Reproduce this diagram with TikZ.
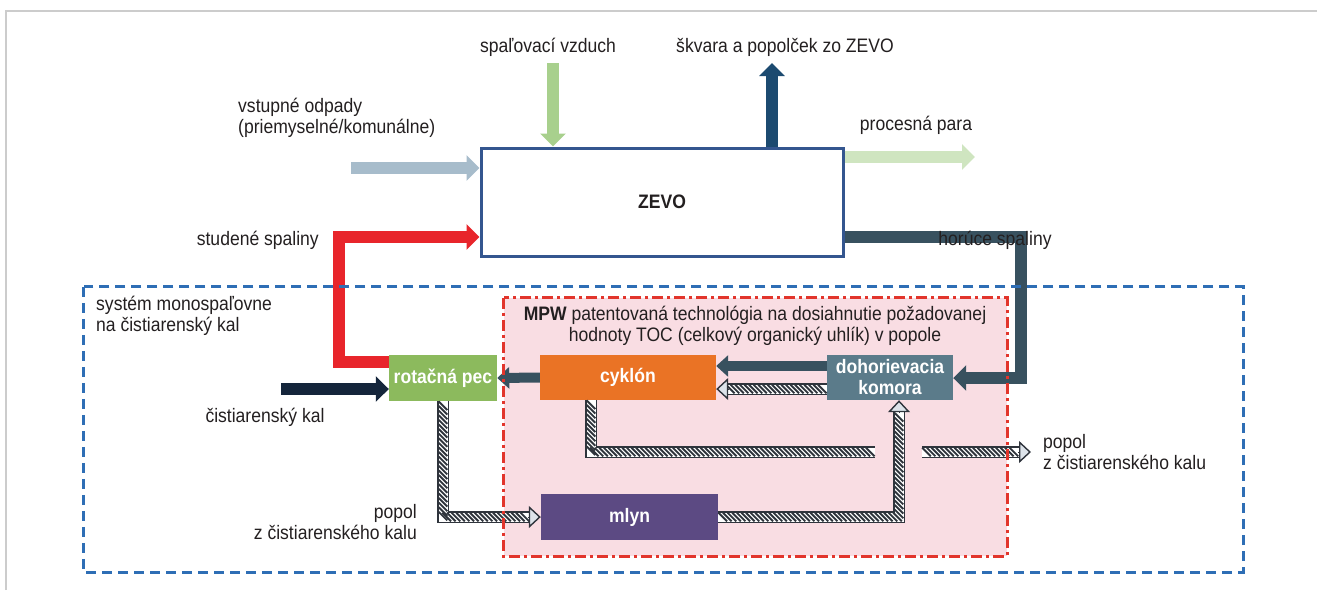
\documentclass[tikz,border=0pt]{standalone}
\usepackage{fontspec}
\setmainfont{Liberation Sans}[FakeStretch=0.9]
\usetikzlibrary{arrows.meta,decorations.markings,calc}
\definecolor{zevoBlue}{HTML}{34568F}
\definecolor{dashBlue}{HTML}{2E6EB5}
\definecolor{dashRed}{HTML}{E2352C}
\definecolor{mpwPink}{HTML}{F9DDE3}
\definecolor{feedGray}{HTML}{A7BCCB}
\definecolor{airGreen}{HTML}{A8D08D}
\definecolor{steamGreen}{HTML}{CFE5C0}
\definecolor{slagBlue}{HTML}{1C4A70}
\definecolor{coldRed}{HTML}{E8252B}
\definecolor{hotSlate}{HTML}{38515F}
\definecolor{sludgeNavy}{HTML}{14253B}
\definecolor{kilnGreen}{HTML}{8CBA5D}
\definecolor{cycOrange}{HTML}{EA7325}
\definecolor{postSlate}{HTML}{5B7B8A}
\definecolor{millPurple}{HTML}{5C4A83}
\definecolor{hatchDark}{HTML}{2F343C}
\definecolor{headFill}{HTML}{DDE3EA}
\definecolor{frameGray}{HTML}{CCCCCC}
\definecolor{txt}{HTML}{231F20}
\tikzset{
  lbl/.style={inner sep=0pt, text=txt},
  procbox/.style={inner sep=0pt, text=white, font=\fontsize{19.5}{21}\selectfont\bfseries, align=center},
  solidarrow/.style={line width=12pt, -{Triangle[width=25pt,length=13pt]}},
  innerarrow/.style={line width=10pt, -{Triangle[width=21pt,length=12pt]}},
  hatch/.style={line width=12pt, draw=hatchDark,
    postaction={draw=white, line width=9pt},
    postaction={decorate, decoration={markings,
      mark=between positions 4.5pt and -3pt step 4.6pt with {\pgftransformresetnontranslations
        \draw[hatchDark, line width=1.9pt] (-4.3pt,4.3pt) -- (4.3pt,-4.3pt);}}}},
  hatchhead/.style={line width=0.8pt, draw=hatchDark,
    -{Triangle[width=22pt,length=12pt,fill=headFill,line width=1.4pt]}},
}
\begin{document}
\begin{tikzpicture}[x=1pt,y=-1pt,font=\fontsize{19.5}{21}\selectfont]
\useasboundingbox (0,0) rectangle (1317,590);
\draw[frameGray, line width=1.5pt] (6,590) -- (6,11) -- (1317,11);

% containers (fills)
\node[inner sep=0pt, minimum width=1159pt, minimum height=285pt] (sys) at (663.5,429.5) {};
\node[fill=mpwPink, inner sep=0pt, minimum width=503pt, minimum height=258pt] (mpw) at (755.5,427) {};

% main boxes
\node[draw=zevoBlue, line width=3pt, fill=white, minimum width=362pt, minimum height=108pt, inner sep=0pt,
      font=\fontsize{19.5}{21}\selectfont\bfseries, text=txt] (zevo) at (662,202) {ZEVO};
\node[procbox, fill=kilnGreen, minimum width=108pt, minimum height=46pt] (rot) at (443,378) {rotačná pec};
\node[procbox, fill=cycOrange, minimum width=176pt, minimum height=45pt] (cyk) at (628,377.5) {cyklón};
\node[procbox, fill=postSlate, minimum width=126pt, minimum height=45pt] (doh) at (890,377.5) {dohorievacia\\komora};
\node[procbox, fill=millPurple, minimum width=177pt, minimum height=46pt] (mlyn) at (629.5,517) {mlyn};

% free ends and bends
\coordinate (feedStart) at (351,168);
\coordinate (airStart) at (553,63);
\coordinate (slagEnd) at (772,63);
\coordinate (steamEnd) at (975,157);
\coordinate (coldA) at (339,362);
\coordinate (coldB) at (339,237);
\coordinate (hotA) at (1021,237);
\coordinate (hotB) at (1021,378);
\coordinate (sludgeStart) at (281,389);
\coordinate (millB) at (899,517);
\coordinate (ashC) at (591,452);
\coordinate (gapL) at (875,452);
\coordinate (gapR) at (922,452);
\coordinate (ashEnd) at (1031,452);

% solid connectors
\draw[solidarrow, feedGray] (feedStart) -- (feedStart -| zevo.west);
\draw[solidarrow, airGreen] (airStart) -- (airStart |- zevo.north);
\draw[solidarrow, slagBlue] (slagEnd |- zevo.north) -- (slagEnd);
\draw[solidarrow, steamGreen] (steamEnd -| zevo.east) -- (steamEnd);
\draw[solidarrow, coldRed] (coldA -| rot.west) -- (coldA) -- (coldB) -- (coldB -| zevo.west);
\draw[solidarrow, hotSlate] (hotA -| zevo.east) -- (hotA) -- (hotB) -- (hotB -| doh.east);
\draw[solidarrow, sludgeNavy] (sludgeStart) -- (sludgeStart -| rot.west);
\draw[innerarrow, hotSlate] (cyk.west) -- (rot.east);
\draw[innerarrow, hotSlate] ($(doh.west)+(0,-11.5)$) -- ($(cyk.east)+(0,-11.5)$);

% hatched connectors
\draw[hatch] (rot.south) -- (rot.south |- mlyn.west) -- ($(mlyn.west)+(-11,0)$);
\draw[hatchhead] ($(mlyn.west)+(-13,0)$) -- (mlyn.west);
\draw[hatch] (mlyn.east) -- (millB) -- ($(millB |- doh.south)+(0,11)$);
\draw[hatchhead] ($(millB |- doh.south)+(0,13)$) -- (millB |- doh.south);
\draw[hatch] ($(doh.west)+(0,11.5)$) -- ($(cyk.east)+(11,11.5)$);
\draw[hatchhead] ($(cyk.east)+(13,11.5)$) -- ($(cyk.east)+(0,11.5)$);
\draw[hatch] (cyk.south -| ashC) -- (ashC) -- (gapL);
\draw[hatch] (gapR) -- ($(ashEnd)+(-11,0)$);
\draw[hatchhead] ($(ashEnd)+(-13,0)$) -- (ashEnd);

% container borders on top
\draw[dashRed, line width=3pt, dash pattern=on 11pt off 4pt on 3pt off 4pt] (mpw.north west) rectangle (mpw.south east);
\draw[dashBlue, line width=3pt, dash pattern=on 10pt off 6pt] (sys.north west) rectangle (sys.south east);

% labels
\node[lbl] (tAir) at (548,47) {spaľovací vzduch};
\node[lbl] (tSlag) at (785,47) {škvara a popolček zo ZEVO};
\node[lbl, anchor=west, align=left] (tFeed) at (238,118) {vstupné odpady\\(priemyselné/komunálne)};
\node[lbl] (tSteam) at (916,125) {procesná para};
\node[lbl, anchor=east] (tCold) at (319,240) {studené spaliny};
\node[lbl] (tHot) at (995,240) {horúce spaliny};
\node[lbl, anchor=west, align=left] (tSys) at (96,316) {systém monospaľovne\\na čistiarenský kal};
\node[lbl] (tSludge) at (265,417) {čistiarenský kal};
\node[lbl, anchor=east, align=right] (tAsh1) at (417,522) {popol\\z čistiarenského kalu};
\node[lbl, anchor=west, align=left] (tAsh2) at (1043,452) {popol\\z čistiarenského kalu};
\node[lbl, align=center] (tMpw) at (755,325.5) {\textbf{MPW} patentovaná technológia na dosiahnutie požadovanej\\hodnoty TOC (celkový organický uhlík) v popole};
\end{tikzpicture}
\end{document}
